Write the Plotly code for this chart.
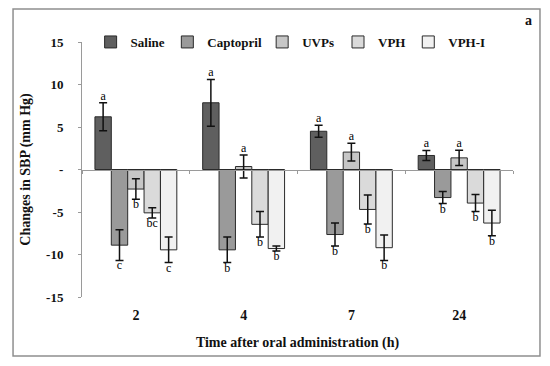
import plotly.graph_objects as go

categories = ["2", "4", "7", "24"]
series_names = ["Saline", "Captopril", "UVPs", "VPH", "VPH-I"]
saline = [6.2, 7.85, 4.5, 1.65]
captopril = [-8.9, -9.45, -7.65, -3.3]
uvps = [-2.3, 0.35, 2.05, 1.37]
vph = [-5.1, -6.45, -4.7, -3.95]
vphi = [-9.45, -9.3, -9.2, -6.3]
saline_err = [1.65, 2.75, 0.7, 0.6]
captopril_err = [1.8, 1.5, 1.35, 0.7]
uvps_err = [1.2, 1.35, 1.05, 0.9]
vph_err = [0.6, 1.5, 1.7, 1.0]
vphi_err = [1.5, 0.3, 1.5, 1.5]
saline_sig = ["a", "a", "a", "a"]
captopril_sig = ["c", "b", "b", "b"]
uvps_sig = ["b", "a", "a", "a"]
vph_sig = ["bc", "b", "b", "b"]
vphi_sig = ["c", "b", "b", "b"]
y_tickvals = [-15, -10, -5, 0, 5, 10, 15]
y_ticktext = ["-15", "-10", "-5", "-", "5", "10", "15"]

values = [saline, captopril, uvps, vph, vphi]
errors = [saline_err, captopril_err, uvps_err, vph_err, vphi_err]
sigs = [saline_sig, captopril_sig, uvps_sig, vph_sig, vphi_sig]
colors = ["#5f5f5f", "#9a9a9a", "#c6c6c6", "#dadada", "#f1f1f1"]
legend_ids = ["legend", "legend2", "legend3", "legend4", "legend5"]
legend_x = [0.02, 0.198, 0.418, 0.594, 0.757]

FONT = "Liberation Serif"
BAR_GAP = 0.24
YMIN, YMAX = -15, 15
TXT = "#111111"

fig = go.Figure()
for name, v, e, c, lg in zip(series_names, values, errors, colors, legend_ids):
    fig.add_trace(go.Bar(
        x=categories, y=v, name=name, offsetgroup=name, legend=lg,
        marker=dict(color=c, line=dict(color="#2a2a2a", width=1)),
        error_y=dict(type="data", array=e, visible=True, color="#111111",
                     thickness=1.5, width=4),
    ))

for name, v, e, s in zip(series_names, values, errors, sigs):
    ys = [vi + ei if vi >= 0 else vi - ei for vi, ei in zip(v, e)]
    pos = ["top center" if vi >= 0 else "bottom center" for vi in v]
    fig.add_trace(go.Scatter(
        x=categories, y=ys, mode="text", text=s, textposition=pos,
        offsetgroup=name, showlegend=False, hoverinfo="skip",
        textfont=dict(family=FONT, size=12, color="#000000"),
    ))

# helper trace for the zero-line category axis
fig.add_trace(go.Scatter(x=categories, y=[None] * len(categories), xaxis="x2",
                         mode="markers", showlegend=False, hoverinfo="skip"))

legend_common = dict(orientation="h", y=1.0, yanchor="middle", xanchor="left",
                     font=dict(family=FONT, size=13, weight="bold", color=TXT),
                     bgcolor="rgba(0,0,0,0)", itemwidth=30)
legends = {lg: dict(legend_common, x=lx) for lg, lx in zip(legend_ids, legend_x)}

fig.update_layout(
    width=542, height=358,
    margin=dict(l=74, r=37, t=34, b=69, autoexpand=False),
    paper_bgcolor="white", plot_bgcolor="white",
    barmode="group", bargap=BAR_GAP, bargroupgap=0,
    scattermode="group", scattergap=BAR_GAP,
    font=dict(family=FONT, size=13, color=TXT),
    showlegend=True,
    **legends,
    xaxis=dict(type="category", categoryorder="array", categoryarray=categories,
               range=[-0.5, len(categories) - 0.5],
               showline=False, showgrid=False, zeroline=False, ticks="",
               ticklabelstandoff=8,
               tickfont=dict(family=FONT, size=14, weight="bold", color=TXT),
               title=dict(text="Time after oral administration (h)", standoff=15,
                          font=dict(family=FONT, size=14, weight="bold", color=TXT))),
    xaxis2=dict(type="category", categoryorder="array", categoryarray=categories,
                range=[-0.5, len(categories) - 0.5],
                overlaying="x", anchor="free", position=(0 - YMIN) / (YMAX - YMIN),
                showline=True, linecolor="#9a9a9a", linewidth=1,
                ticks="outside", tickson="boundaries", ticklen=3, tickcolor="#9a9a9a",
                showticklabels=False, showgrid=False, zeroline=False),
    yaxis=dict(range=[YMIN, YMAX], tickvals=y_tickvals, ticktext=y_ticktext,
               showline=True, linecolor="#9a9a9a", linewidth=1,
               ticks="outside", ticklen=3, tickcolor="#9a9a9a",
               showgrid=False, zeroline=False, ticklabelstandoff=12,
               tickfont=dict(family=FONT, size=13, weight="bold", color=TXT),
               title=dict(text="Changes in SBP (mm Hg)", standoff=12,
                          font=dict(family=FONT, size=14, weight="bold", color=TXT))),
    shapes=[dict(type="rect", xref="paper", yref="paper",
                 x0=-0.160, x1=1.0626, y0=-0.231, y1=1.129,
                 line=dict(color="#8f8f8f", width=1.5), fillcolor="rgba(0,0,0,0)")],
    annotations=[dict(text="a", xref="paper", yref="paper", x=1.035, y=1.086,
                      xanchor="center", yanchor="middle", showarrow=False,
                      font=dict(family=FONT, size=14, weight="bold", color=TXT))],
)

fig.write_html("out.html")
